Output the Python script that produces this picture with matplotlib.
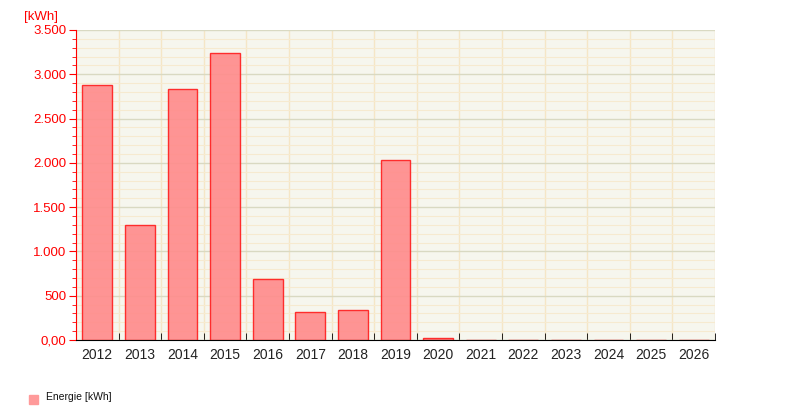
import numpy as np
import matplotlib
matplotlib.use('Agg')
import matplotlib.pyplot as plt
from matplotlib.ticker import MultipleLocator, FuncFormatter
from matplotlib.patches import Rectangle

plt.rcParams['font.family'] = ['Liberation Sans', 'DejaVu Sans']

years = ['2012', '2013', '2014', '2015', '2016', '2017', '2018', '2019',
         '2020', '2021', '2022', '2023', '2024', '2025', '2026']
energie = [2879, 1298, 2834, 3240, 689, 316, 339, 2032,
           23, 0, 0, 0, 0, 0, 0]


def de_format(v, pos):
    if v == 0:
        return '0,00'
    return '{:,.0f}'.format(v).replace(',', '.')


fig = plt.figure(figsize=(7.9, 4.2), dpi=100)
ax = fig.add_axes([76 / 790, 80 / 420, 639 / 790, 310 / 420])
ax.set_facecolor('#f6f6ee')

x = np.arange(len(years))
ax.bar(x, energie, width=0.7, color='#ff8c8c', alpha=0.92,
       edgecolor='#ff2020', linewidth=1, zorder=3)

ax.set_xlim(-0.5, len(years) - 0.5)
ax.set_ylim(0, 3500)

ax.yaxis.set_major_locator(MultipleLocator(500))
ax.yaxis.set_minor_locator(MultipleLocator(100))
ax.yaxis.set_major_formatter(FuncFormatter(de_format))
ax.grid(axis='y', which='minor', color='#f6ead0', linewidth=0.8, zorder=0)
ax.grid(axis='y', which='major', color='#d9d9c2', linewidth=1, zorder=1)

# category boundaries for grid and ticks
ax.set_xticks(x)
ax.set_xticklabels(years)
ax.set_xticks(np.arange(len(years) + 1) - 0.5, minor=True)
ax.grid(axis='x', which='minor', color='#f5e6c6', linewidth=1, zorder=0)
ax.tick_params(axis='x', which='major', length=0, pad=6, labelsize=10,
               labelcolor='#222222')
ax.tick_params(axis='x', which='minor', length=5, direction='in',
               color='black')

ax.tick_params(axis='y', which='major', length=5, color='red',
               labelcolor='red', labelsize=9.5, pad=2)
ax.tick_params(axis='y', which='minor', length=3, color='red')

for s in ['top', 'right']:
    ax.spines[s].set_visible(False)
ax.spines['left'].set_color('red')
ax.spines['bottom'].set_color('black')
ax.spines['left'].set_zorder(4)
ax.spines['bottom'].set_zorder(4)

fig.text(24 / 790, 1 - 17 / 420, '[kWh]', color='red', fontsize=9.5,
         va='center', ha='left')

# legend
fig.patches.append(Rectangle((29 / 790, 1 - 404 / 420), 9 / 790, 9 / 420,
                             transform=fig.transFigure, color='#ff9a9a'))
fig.text(46 / 790, 1 - 397 / 420, 'Energie [kWh]', fontsize=7.5,
         va='center', ha='left', color='#111111')

fig.savefig('out.png', dpi=100)
